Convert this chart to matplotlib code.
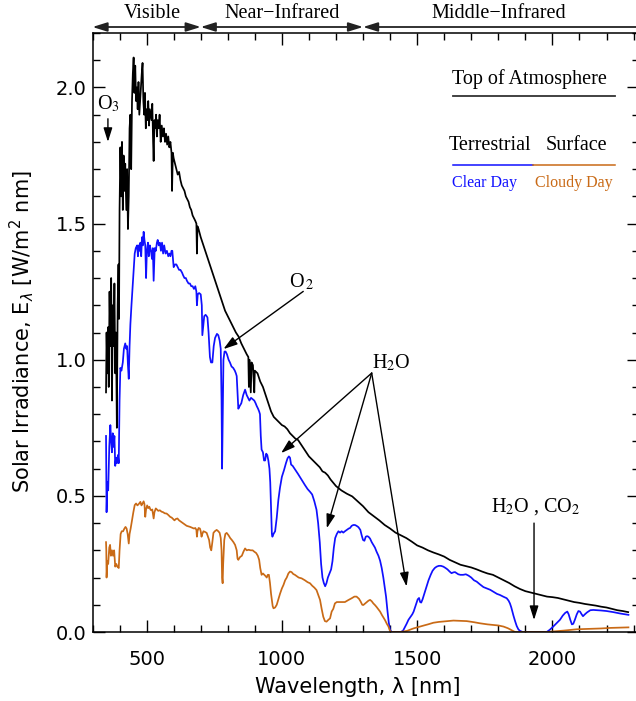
import numpy as np
import matplotlib
matplotlib.use("Agg")
import matplotlib.pyplot as plt
from matplotlib.lines import Line2D
from matplotlib.ticker import MultipleLocator

# ---------------- data ----------------
toa_wl = [350, 352, 355, 358, 360, 363, 366, 369, 372, 375, 378, 381, 384, 387, 390, 393, 396, 398,
          400, 403, 406, 409, 412, 415, 418, 421, 425, 428, 431, 434, 437, 440, 443, 446, 449, 452,
          455, 458, 461, 464, 467, 470, 473, 476, 479, 482, 485, 488, 491, 494, 497, 500, 503, 506,
          509, 512, 515, 518, 521, 524, 526, 529, 532, 535, 538, 541, 545, 548, 552, 556, 560, 564,
          568, 572, 576, 580, 584, 588, 592, 594, 597, 600, 605, 610, 615, 620, 625, 630, 635, 640,
          645, 650, 655, 660, 665, 670, 675, 680, 684, 686, 688, 692, 700, 710, 720, 730, 740, 750,
          760, 770, 780, 790, 800, 810, 820, 830, 840, 850, 860, 870, 876, 878, 880, 885, 888, 893,
          898, 900, 910, 920, 930, 940, 950, 960, 970, 980, 990, 1000, 1010, 1020, 1030, 1040, 1050,
          1060, 1070, 1080, 1090, 1100, 1110, 1120, 1130, 1140, 1150, 1160, 1170, 1180, 1190, 1200,
          1220, 1240, 1260, 1280, 1300, 1320, 1340, 1360, 1380, 1400, 1420, 1440, 1460, 1480, 1500,
          1520, 1540, 1560, 1580, 1600, 1620, 1640, 1660, 1680, 1700, 1720, 1740, 1760, 1780, 1800,
          1820, 1840, 1860, 1880, 1900, 1920, 1940, 1960, 1980, 2000, 2020, 2040, 2060, 2080, 2100,
          2120, 2140, 2160, 2180, 2200, 2220, 2240, 2260, 2280]
toa_val = [0.88, 1.10, 0.95, 1.12, 0.90, 1.25, 1.05, 1.30, 0.85, 1.20, 1.05, 1.28, 0.95, 1.10, 0.75, 1.20, 1.35, 1.15,
           1.55, 1.78, 1.60, 1.80, 1.55, 1.75, 1.62, 1.72, 1.55, 1.70, 1.48, 1.60, 1.85, 1.90, 1.70, 1.95, 2.05, 2.11,
           1.98, 2.08, 1.95, 2.00, 1.92, 2.02, 1.90, 1.95, 2.00, 2.05, 2.09, 1.95, 1.90, 1.98, 1.85, 1.92, 1.88, 1.95,
           1.86, 1.92, 1.90, 1.88, 1.94, 1.80, 1.73, 1.88, 1.85, 1.90, 1.82, 1.88, 1.85, 1.90, 1.80, 1.86, 1.82, 1.85,
           1.80, 1.83, 1.79, 1.82, 1.78, 1.80, 1.76, 1.62, 1.76, 1.74, 1.72, 1.70, 1.68, 1.69, 1.66, 1.64, 1.63, 1.62,
           1.60, 1.59, 1.58, 1.56, 1.55, 1.53, 1.52, 1.51, 1.50, 1.39, 1.49, 1.48, 1.45, 1.42, 1.39, 1.36, 1.33, 1.30,
           1.27, 1.24, 1.21, 1.18, 1.16, 1.14, 1.12, 1.10, 1.085, 1.06, 1.04, 1.02, 1.01, 0.90, 1.00, 0.88, 0.99, 0.98,
           0.88, 0.96, 0.95, 0.92, 0.90, 0.87, 0.84, 0.81, 0.79, 0.78, 0.77, 0.76, 0.755, 0.745, 0.73, 0.72, 0.71,
           0.705, 0.69, 0.675, 0.66, 0.645, 0.635, 0.625, 0.615, 0.605, 0.59, 0.585, 0.575, 0.56, 0.548, 0.536,
           0.52, 0.508, 0.498, 0.48, 0.462, 0.44, 0.425, 0.41, 0.393, 0.38, 0.365, 0.355, 0.345, 0.332, 0.318,
           0.31, 0.30, 0.292, 0.285, 0.277, 0.265, 0.256, 0.247, 0.242, 0.237, 0.23, 0.222, 0.215, 0.21, 0.20,
           0.19, 0.18, 0.168, 0.158, 0.15, 0.145, 0.14, 0.135, 0.13, 0.128, 0.125, 0.12, 0.115, 0.11, 0.107,
           0.103, 0.10, 0.097, 0.093, 0.09, 0.085, 0.08, 0.077, 0.073]

clear_wl = [350, 351, 352, 355, 358, 362, 366, 369, 372, 375, 378, 381, 384, 387, 390, 394, 397, 400, 403, 407,
            412, 416, 421, 425, 428, 431, 434, 437, 440, 444, 449, 453, 456, 460, 465, 468, 471, 474, 477, 480,
            483, 486, 489, 492, 495, 498, 501, 505, 508, 512, 516, 520, 523, 526, 530, 534, 538, 541, 545, 549,
            553, 557, 561, 565, 570, 575, 580, 584, 588, 592, 595, 600, 605, 610, 615, 620, 625, 631, 635, 640,
            645, 649, 655, 660, 665, 670, 675, 680, 684, 686, 689, 694, 700, 704, 706, 709, 713, 718, 722, 725,
            729, 734, 738, 743, 748, 753, 760, 765, 770, 774, 777, 779, 781, 784, 788, 792, 797, 803, 808, 814,
            820, 826, 830, 833, 836, 839, 844, 850, 857, 864, 870, 875, 880, 886, 892, 898, 903, 907, 912, 916,
            919, 922, 925, 930, 934, 938, 942, 946, 950, 954, 957, 960, 963, 965, 969, 975, 981, 987, 993, 1000,
            1008, 1015, 1021, 1026, 1030, 1034, 1040, 1050, 1060, 1073, 1085, 1095, 1104, 1112, 1120, 1128, 1134,
            1140, 1145, 1150, 1155, 1160, 1165, 1170, 1176, 1182, 1187, 1192, 1197, 1203, 1209, 1215, 1221, 1227,
            1233, 1240, 1247, 1252, 1258, 1264, 1270, 1276, 1283, 1290, 1295, 1300, 1305, 1310, 1315, 1320, 1326,
            1332, 1338, 1344, 1350, 1357, 1363, 1369, 1375, 1380, 1385, 1390, 1395, 1400, 1405, 1420, 1440, 1448,
            1455, 1461, 1468, 1475, 1482, 1487, 1492, 1497, 1502, 1507, 1511, 1515, 1520, 1528, 1535, 1542, 1550,
            1557, 1565, 1572, 1580, 1588, 1597, 1605, 1612, 1620, 1627, 1634, 1640, 1646, 1652, 1660, 1670, 1680,
            1690, 1700, 1710, 1720, 1732, 1745, 1757, 1770, 1782, 1795, 1806, 1818, 1831, 1838, 1843, 1848, 1852,
            1856, 1862, 1868, 1874, 1880, 1890, 1950, 1979, 1990, 2003, 2015, 2028, 2038, 2047, 2055, 2060, 2066,
            2072, 2077, 2083, 2090, 2096, 2102, 2108, 2113, 2120, 2128, 2140, 2151, 2165, 2180, 2200, 2225, 2250,
            2281]
clear_val = [0.72, 0.60, 0.44, 0.55, 0.52, 0.68, 0.76, 0.70, 0.66, 0.73, 0.68, 0.72, 0.61, 0.64, 0.62, 0.65, 0.62,
             0.85, 0.97, 0.96, 0.99, 1.04, 1.06, 1.04, 1.05, 0.98, 0.93, 1.05, 1.13, 1.20, 1.28, 1.34, 1.39, 1.41,
             1.42, 1.38, 1.42, 1.40, 1.43, 1.38, 1.45, 1.42, 1.47, 1.44, 1.42, 1.30, 1.40, 1.43, 1.38, 1.42, 1.40,
             1.37, 1.41, 1.29, 1.41, 1.40, 1.43, 1.44, 1.42, 1.43, 1.40, 1.43, 1.39, 1.42, 1.39, 1.40, 1.38, 1.39,
             1.38, 1.40, 1.40, 1.34, 1.35, 1.35, 1.34, 1.33, 1.33, 1.32, 1.31, 1.30, 1.30, 1.29, 1.28, 1.28, 1.27,
             1.27, 1.26, 1.27, 1.25, 1.20, 1.24, 1.245, 1.24, 1.20, 1.09, 1.12, 1.16, 1.165, 1.16, 1.155, 1.10, 1.01,
             0.99, 0.99, 1.05, 1.08, 1.095, 1.09, 1.07, 1.04, 0.85, 0.60, 0.75, 1.00, 1.03, 1.03, 1.02, 1.00, 0.99,
             0.975, 0.97, 0.96, 0.95, 0.94, 0.88, 0.82, 0.83, 0.84, 0.87, 0.89, 0.87, 0.86, 0.85, 0.86, 0.855, 0.85,
             0.84, 0.83, 0.82, 0.81, 0.80, 0.72, 0.67, 0.66, 0.63, 0.63, 0.655, 0.65, 0.63, 0.60, 0.55, 0.45, 0.36,
             0.35, 0.36, 0.37, 0.42, 0.485, 0.53, 0.57, 0.595, 0.62, 0.638, 0.645, 0.64, 0.615, 0.61, 0.595, 0.58,
             0.559, 0.54, 0.525, 0.515, 0.505, 0.48, 0.449, 0.40, 0.33, 0.25, 0.20, 0.18, 0.168, 0.18, 0.20, 0.215,
             0.23, 0.26, 0.31, 0.345, 0.36, 0.37, 0.365, 0.37, 0.365, 0.37, 0.375, 0.38, 0.382, 0.39, 0.393, 0.393,
             0.39, 0.385, 0.375, 0.355, 0.338, 0.335, 0.35, 0.352, 0.35, 0.343, 0.33, 0.32, 0.31, 0.295, 0.28, 0.262,
             0.235, 0.20, 0.165, 0.13, 0.08, 0.035, 0.008, 0.0, 0.0, 0.0, 0.005, 0.018, 0.03, 0.045, 0.055, 0.065,
             0.075, 0.09, 0.105, 0.12, 0.125, 0.11, 0.108, 0.12, 0.145, 0.167, 0.19, 0.21, 0.225, 0.235, 0.24, 0.243,
             0.243, 0.24, 0.235, 0.23, 0.222, 0.216, 0.219, 0.22, 0.216, 0.212, 0.21, 0.21, 0.212, 0.207, 0.20, 0.19,
             0.185, 0.175, 0.165, 0.16, 0.155, 0.148, 0.14, 0.136, 0.13, 0.124, 0.115, 0.105, 0.09, 0.075, 0.06,
             0.04, 0.022, 0.01, 0.004, 0.0, 0.0, 0.0, 0.008, 0.02, 0.032, 0.045, 0.06, 0.07, 0.075, 0.065, 0.045,
             0.028, 0.03, 0.045, 0.065, 0.077, 0.075, 0.065, 0.058, 0.065, 0.072, 0.08, 0.081, 0.08, 0.079, 0.077,
             0.073, 0.068, 0.063]

cloudy_wl = [350, 351, 352, 355, 358, 362, 365, 368, 372, 376, 380, 384, 388, 392, 397, 400, 404, 408, 413, 418,
             422, 426, 430, 434, 437, 441, 446, 451, 456, 461, 466, 471, 477, 481, 485, 489, 492, 495, 498, 502,
             506, 510, 514, 517, 521, 524, 526, 529, 534, 538, 543, 549, 555, 561, 567, 574, 580, 587, 593, 598,
             603, 608, 614, 620, 627, 634, 641, 648, 655, 661, 668, 675, 680, 684, 686, 688, 692, 697, 700, 703,
             706, 710, 715, 722, 727, 731, 735, 739, 743, 747, 752, 759, 765, 770, 774, 777, 779, 781, 783, 787,
             791, 796, 803, 809, 815, 821, 827, 833, 836, 839, 845, 852, 858, 864, 870, 877, 885, 892, 898, 905,
             911, 916, 920, 925, 930, 935, 940, 944, 948, 952, 956, 960, 963, 966, 969, 975, 981, 987, 993, 1000,
             1006, 1012, 1018, 1024, 1030, 1036, 1042, 1048, 1055, 1062, 1073, 1085, 1095, 1104, 1112, 1120, 1128,
             1135, 1141, 1147, 1153, 1159, 1165, 1172, 1178, 1184, 1190, 1196, 1203, 1209, 1220, 1233, 1245, 1258,
             1268, 1276, 1285, 1291, 1297, 1301, 1308, 1314, 1320, 1326, 1332, 1338, 1344, 1350, 1357, 1363, 1370,
             1376, 1381, 1388, 1394, 1398, 1402, 1437, 1450, 1462, 1475, 1486, 1500, 1511, 1525, 1540, 1560, 1580,
             1600, 1620, 1634, 1660, 1683, 1710, 1732, 1760, 1782, 1800, 1819, 1835, 1843, 1852, 1862, 1979, 2003,
             2040, 2070, 2090, 2120, 2151, 2180, 2213, 2250, 2281]
cloudy_val = [0.33, 0.30, 0.20, 0.26, 0.25, 0.31, 0.32, 0.28, 0.30, 0.28, 0.30, 0.24, 0.25, 0.24, 0.235, 0.30, 0.36,
              0.37, 0.37, 0.38, 0.386, 0.38, 0.36, 0.325, 0.36, 0.38, 0.41, 0.44, 0.466, 0.472, 0.465, 0.47, 0.478,
              0.465, 0.472, 0.48, 0.47, 0.423, 0.45, 0.465, 0.455, 0.46, 0.45, 0.447, 0.45, 0.43, 0.417, 0.44, 0.454,
              0.45, 0.445, 0.447, 0.442, 0.44, 0.436, 0.435, 0.43, 0.423, 0.42, 0.415, 0.41, 0.415, 0.417, 0.41, 0.405,
              0.40, 0.395, 0.39, 0.388, 0.386, 0.383, 0.38, 0.382, 0.375, 0.35, 0.37, 0.382, 0.38, 0.37, 0.35, 0.36,
              0.37, 0.368, 0.364, 0.35, 0.338, 0.31, 0.30, 0.33, 0.364, 0.37, 0.375, 0.37, 0.364, 0.345, 0.30, 0.20,
              0.179, 0.25, 0.338, 0.36, 0.364, 0.355, 0.345, 0.338, 0.33, 0.32, 0.30, 0.27, 0.265, 0.275, 0.28, 0.295,
              0.307, 0.30, 0.302, 0.30, 0.30, 0.295, 0.29, 0.28, 0.265, 0.235, 0.21, 0.215, 0.21, 0.205, 0.20, 0.21,
              0.21, 0.18, 0.14, 0.118, 0.095, 0.087, 0.09, 0.10, 0.12, 0.14, 0.16, 0.173, 0.19, 0.20, 0.215, 0.222,
              0.22, 0.213, 0.21, 0.205, 0.20, 0.197, 0.19, 0.183, 0.179, 0.17, 0.163, 0.154, 0.135, 0.118, 0.085,
              0.056, 0.04, 0.038, 0.045, 0.05, 0.075, 0.085, 0.105, 0.11, 0.11, 0.11, 0.11, 0.117, 0.124, 0.13, 0.13,
              0.122, 0.112, 0.10, 0.099, 0.105, 0.11, 0.115, 0.118, 0.113, 0.105, 0.099, 0.092, 0.083, 0.075, 0.062,
              0.052, 0.044, 0.03, 0.02, 0.008, 0.0, 0.0, 0.002, 0.004, 0.009, 0.013, 0.017, 0.02, 0.024, 0.028, 0.034,
              0.037, 0.039, 0.041, 0.042, 0.041, 0.04, 0.036, 0.032, 0.028, 0.026, 0.024, 0.02, 0.014, 0.01, 0.005,
              0.0, 0.0, 0.002, 0.005, 0.008, 0.01, 0.011, 0.012, 0.013, 0.015, 0.016, 0.017]

band_names = ["Visible", "Near\u2212Infrared", "Middle\u2212Infrared"]
band_edges = [300, 700, 1300, 2320]
band_label_x = [520, 1000, 1800]

# ---------------- styling ----------------
BLUE = "#1010ff"
ORANGE = "#c96a16"
SERIF = ["Liberation Serif", "DejaVu Serif"]
plt.rcParams["font.family"] = ["DejaVu Sans"]

W, H = 636, 701
fig = plt.figure(figsize=(W / 100, H / 100), dpi=100)
ax_l, ax_r, ax_t, ax_b = 92.5, 639.0, 33.0, 632.0
ax = fig.add_axes([ax_l / W, 1 - ax_b / H, (ax_r - ax_l) / W, (ax_b - ax_t) / H])

lw = 1.25
ax.plot(toa_wl, toa_val, color="black", lw=lw)
ax.plot(clear_wl, clear_val, color=BLUE, lw=lw)
ax.plot(cloudy_wl, cloudy_val, color=ORANGE, lw=lw)

ax.set_xlim(300, 2320)
ax.set_ylim(0, 2.2)
ax.xaxis.set_major_locator(MultipleLocator(500))
ax.xaxis.set_minor_locator(MultipleLocator(100))
ax.yaxis.set_major_locator(MultipleLocator(0.5))
ax.yaxis.set_minor_locator(MultipleLocator(0.1))
ax.yaxis.set_major_formatter(matplotlib.ticker.FormatStrFormatter("%.1f"))
ax.tick_params(which="both", direction="in", top=True, right=True, width=1.0, labelsize=14)
ax.tick_params(which="major", length=8.5)
ax.tick_params(which="minor", length=4.8)
ax.tick_params(axis="x", which="major", pad=13)
ax.tick_params(axis="y", which="major", pad=4)
for s in ax.spines.values():
    s.set_linewidth(1.1)

fig.text(22 / W, 1 - 332 / H, "Solar Irradiance, E$_\\lambda$ [W/m$^2$ nm]", rotation=90,
         ha="center", va="center", fontsize=15)
fig.text(358 / W, 1 - 687 / H, "Wavelength, \u03bb [nm]", ha="center", va="center", fontsize=15)

# ---------------- spectral band arrows on top ----------------
ytop = 1 + 6 / (ax_b - ax_t)
aprops = dict(color="#222222", lw=1.3, shrinkA=0, shrinkB=0, mutation_scale=11)
for i in range(3):
    style = "<|-|>" if i < 2 else "<|-"
    ax.annotate("", xy=(band_edges[i + 1], ytop), xytext=(band_edges[i], ytop),
                xycoords=("data", "axes fraction"), textcoords=("data", "axes fraction"),
                arrowprops=dict(arrowstyle=style + ",head_length=0.8,head_width=0.25", **aprops),
                annotation_clip=False)
    ax.text(band_label_x[i], 1 + 19 / (ax_b - ax_t), band_names[i], transform=ax.get_xaxis_transform(),
            ha="center", va="center", fontsize=14.5, family=SERIF)

# ---------------- absorption annotations ----------------
arr = dict(arrowstyle="-|>,head_length=0.7,head_width=0.22", color="black", lw=1.0,
           shrinkA=0, shrinkB=0, mutation_scale=12)
tk = dict(family=SERIF, fontsize=14.5, math_fontfamily="stix", ha="center", va="center")
ax.text(358, 1.94, "O$_3$", **tk)
ax.annotate("", xy=(357, 1.80), xytext=(357, 1.885), arrowprops=arr)
ax.text(1072, 1.287, "O$_{\\,2}$", **tk)
ax.annotate("", xy=(784, 1.039), xytext=(1079, 1.251), arrowprops=arr)
ax.text(1405, 0.99, "H$_2$O", **tk)
for tip in [(997, 0.657), (1166, 0.381), (1461, 0.167)]:
    ax.annotate("", xy=tip, xytext=(1332, 0.951), arrowprops=arr)
ax.text(1939, 0.46, "H$_2$O , CO$_2$", **tk)
ax.annotate("", xy=(1932, 0.044), xytext=(1932, 0.40), arrowprops=arr)

# ---------------- legend ----------------
def fx(px):
    return px / W

def fy(py):
    return 1 - py / H

fig.text(fx(529), fy(79), "Top of Atmosphere", ha="center", va="center", fontsize=14.5, family=SERIF)
fig.add_artist(Line2D([fx(453), fx(615)], [fy(96), fy(96)], color="#333333", lw=1.3))
fig.text(fx(490), fy(146), "Terrestrial", ha="center", va="center", fontsize=14.5, family=SERIF)
fig.text(fx(576), fy(146), "Surface", ha="center", va="center", fontsize=14.5, family=SERIF)
fig.add_artist(Line2D([fx(453), fx(533)], [fy(165), fy(165)], color=BLUE, lw=1.1))
fig.add_artist(Line2D([fx(533), fx(615)], [fy(165), fy(165)], color=ORANGE, lw=1.1))
fig.text(fx(485), fy(183), "Clear Day", ha="center", va="center", fontsize=11.5, family=SERIF, color=BLUE)
fig.text(fx(574), fy(183), "Cloudy Day", ha="center", va="center", fontsize=11.5, family=SERIF, color=ORANGE)

fig.savefig("out.png", dpi=100)
